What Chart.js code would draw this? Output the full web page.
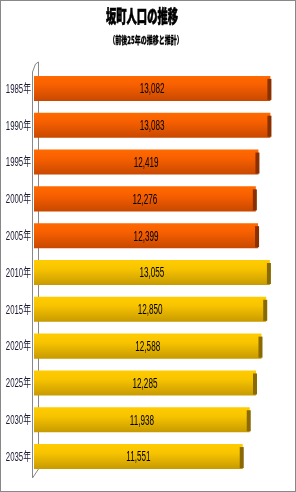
<!DOCTYPE html>
<html>
<head>
<meta charset="utf-8">
<script src="https://cdn.jsdelivr.net/npm/chart.js@4.4.0/dist/chart.umd.min.js"></script>
<style>
	html, body { margin:0; padding:0; background:#fff; }
	#wrap { width:296px; height:492px; box-sizing:border-box; border:1px solid #888; }
</style>
</head>
<body>
<div id="wrap"><canvas id="myChart" width="294" height="490"></canvas></div>
<script>
// 데이터
const titleText = '坂町人口の推移';
const subtitleText = '（前後25年の推移と推計）';
const years = ['1985年','1990年','1995年','2000年','2005年','2010年','2015年','2020年','2025年','2030年','2035年'];
const population = [13082, 13083, 12419, 12276, 12399, 13055, 12850, 12588, 12285, 11938, 11551];
const isEstimate = [false, false, false, false, false, true, true, true, true, true, true];

const ctx = document.getElementById('myChart');
const jp = '"Noto Sans CJK JP", sans-serif';
const sans = '"Liberation Sans", "Noto Sans CJK JP", sans-serif';

function barFill(c){
	const ys = c.chart.scales.y;
	const plain = isEstimate[c.dataIndex] ? '#FFCC00' : '#FF6600';
	if(!ys) return plain;
	const cy = ys.getPixelForValue(c.dataIndex);
	const h = (ys.bottom - ys.top) / years.length * 0.68;
	if(!isFinite(cy) || !isFinite(h) || h <= 0) return plain;
	const g = c.chart.ctx.createLinearGradient(0, cy - h/2, 0, cy + h/2);
	if(isEstimate[c.dataIndex]){
		g.addColorStop(0, '#FFCC00'); g.addColorStop(0.35, '#F8C400'); g.addColorStop(1, '#C79A00');
	}else{
		g.addColorStop(0, '#FF6A00'); g.addColorStop(0.35, '#F86000'); g.addColorStop(1, '#C84800');
	}
	return g;
}

// 細長い文字 (横に縮める)
function narrowText(c, text, x, y, sx, font, color, thick){
	c.save();
	c.font = font; c.fillStyle = color;
	c.textAlign = 'center'; c.textBaseline = 'middle';
	c.translate(x, y); c.scale(sx, 1);
	if(thick){ c.strokeStyle = color; c.lineWidth = thick; c.strokeText(text, 0, 0); }
	c.fillText(text, 0, 0);
	c.restore();
}

// 3D風の軸の壁 + タイトル + 目盛り + 値ラベル
const decor = {
	id : 'decor',
	beforeDatasetsDraw(chart){
		const a = chart.chartArea, c = chart.ctx;
		c.save();
		c.strokeStyle = '#888'; c.lineWidth = 1;
		c.beginPath();
		c.moveTo(a.left - 1.5, a.top + 2); c.lineTo(a.left - 1.5, a.bottom + 3);
		c.lineTo(a.left + 4.5, a.bottom - 6);
		c.moveTo(a.left + 4.5, a.top - 8); c.lineTo(a.left + 4.5, a.bottom - 6);
		c.moveTo(a.left - 1.5, a.top + 2); c.lineTo(a.left + 1.5, a.top - 6); c.lineTo(a.left + 4.5, a.top - 8);
		c.stroke();
		c.restore();

		narrowText(c, titleText, chart.width/2 - 6, 15.5, 0.57, '900 18px ' + jp, '#000', 0.7);
		narrowText(c, subtitleText, chart.width/2 - 2, 39.5, 0.6, '900 10px ' + jp, '#000', 0.3);

		const ys = chart.scales.y;
		years.forEach((lab, i) => {
			const w = 12 * (4*0.556 + 1) * 0.65;
			narrowText(c, lab, a.left - 3 - w/2, ys.getPixelForTick(i) + 1, 0.65, '12px ' + sans, '#1a1a33');
		});
	},
	afterDatasetsDraw(chart){
		const c = chart.ctx;
		const meta = chart.getDatasetMeta(0);
		meta.data.forEach((bar, i) => {
			const h = bar.height;
			c.fillStyle = isEstimate[i] ? '#8A6A00' : '#8A3000';
			c.fillRect(bar.x - 3, bar.y - h/2 + 3, 4, h - 4);
			narrowText(c, population[i].toLocaleString('en-US'), (bar.base + bar.x)/2, bar.y + 1, 0.58, '14px ' + sans, '#000');
		});
	}
};

new Chart(ctx, {
	type : 'bar',
	data : {
		labels : years,
		datasets : [{
			data : population,
			backgroundColor : barFill,
			borderWidth : 0,
			barPercentage : 0.85,
			categoryPercentage : 0.8
		}]
	},
	options : {
		indexAxis : 'y',
		responsive : false,
		animation : false,
		layout : { padding : { left : 1, right : 8, top : 69, bottom : 16 } },
		plugins : {
			legend : { display : false },
			tooltip : { enabled : false }
		},
		scales : {
			x : { display : false, min : 0, max : 14000 },
			y : {
				grid : { display : false },
				border : { display : false },
				ticks : { display : false },
				afterFit(s){ s.width = 32; }
			}
		}
	},
	plugins : [decor]
});
</script>
</body>
</html>
